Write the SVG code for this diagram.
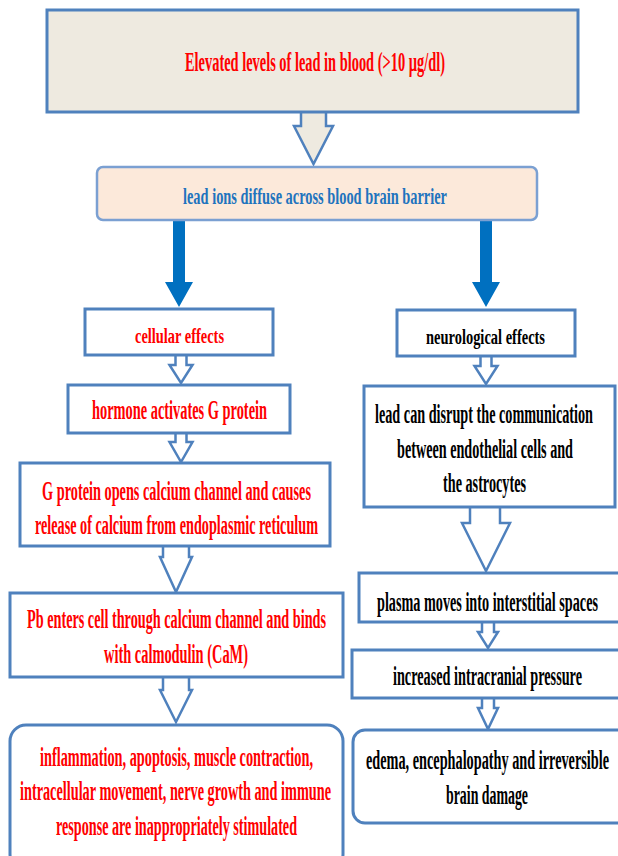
<svg xmlns="http://www.w3.org/2000/svg" width="618" height="856" viewBox="0 0 618 856">
<style>
.box{fill:#ffffff;stroke:#4F81BD;stroke-width:3}
.ha{fill:#ffffff;stroke:#4F81BD;stroke-width:2.5;stroke-linejoin:miter}
.t{font-family:"Liberation Serif","Times New Roman",serif;font-weight:bold;font-size:27px;text-anchor:middle}
.s{font-size:22px}
.m{font-size:24px}
.r{fill:#FF0000}
.k{fill:#000000}
.b{fill:#1F74BE}
</style>
<rect width="618" height="856" fill="#ffffff"/>
<g id="connectors">
<path class="ha" style="fill:#EEEAE0" d="M301,111 L301,126 L294,126 L313.5,164 L333,126 L326,126 L326,111"/>
<path fill="#0070C0" d="M173,220 L185,220 L185,282 L193,282 L179,307 L165,282 L173,282 Z"/>
<path fill="#0070C0" d="M480,220 L492,220 L492,282 L500,282 L486,307 L472,282 L480,282 Z"/>
<path class="ha" d="M175.5,355 L175.5,365 L169.5,365 L181,383 L192.5,365 L186.5,365 L186.5,355"/>
<path class="ha" d="M175.5,433 L175.5,442 L169.5,442 L181,462 L192.5,442 L186.5,442 L186.5,433"/>
<path class="ha" d="M163,546 L163,557 L160,557 L176,592 L192,557 L189,557 L189,546"/>
<path class="ha" d="M163,677 L163,690 L160,690 L176,722 L192,690 L189,690 L189,677"/>
<path class="ha" d="M480.5,356 L480.5,366 L474.5,366 L486,384 L497.5,366 L491.5,366 L491.5,356"/>
<path class="ha" d="M470,507 L470,523 L462,523 L486,571 L510,523 L500,523 L500,507"/>
<path class="ha" d="M482,622 L482,632 L478,632 L488,648 L498,632 L494,632 L494,622"/>
<path class="ha" d="M482,698 L482,708 L478,708 L488,729 L498,708 L494,708 L494,698"/>
</g>
<g id="n1"><rect class="box" style="fill:#EEEAE0" x="47" y="10" width="531" height="102"/>
<text class="t r" x="315" y="71" textLength="260" lengthAdjust="spacingAndGlyphs">Elevated levels of lead in blood (&gt;10 µg/dl)</text></g>
<g id="n2"><rect class="box" style="fill:#FCE9DA;stroke:#7BA0D2;stroke-width:2.5" x="97" y="167" width="440" height="53" rx="6"/>
<text class="t m b" x="315" y="204" textLength="264" lengthAdjust="spacingAndGlyphs">lead ions diffuse across blood brain barrier</text></g>
<g id="n3"><rect class="box" x="85" y="309" width="188" height="46"/>
<text class="t s r" x="179.5" y="343" textLength="89" lengthAdjust="spacingAndGlyphs">cellular effects</text></g>
<g id="n4"><rect class="box" x="68" y="385" width="222" height="48"/>
<text class="t r" x="179.5" y="419" textLength="175" lengthAdjust="spacingAndGlyphs">hormone activates G protein</text></g>
<g id="n5"><rect class="box" x="20" y="463" width="310" height="83"/>
<text class="t r" x="176.5" y="500" textLength="269" lengthAdjust="spacingAndGlyphs">G protein opens calcium channel and causes</text>
<text class="t r" x="176.5" y="534" textLength="283" lengthAdjust="spacingAndGlyphs">release of calcium from endoplasmic reticulum</text></g>
<g id="n6"><rect class="box" x="10" y="593" width="333" height="84"/>
<text class="t r" x="176.5" y="628" textLength="299" lengthAdjust="spacingAndGlyphs">Pb enters cell through calcium channel and binds</text>
<text class="t r" x="176" y="663" textLength="144" lengthAdjust="spacingAndGlyphs">with calmodulin (CaM)</text></g>
<g id="n7"><rect class="box" x="10" y="725" width="333" height="145" rx="16"/>
<text class="t r" x="176.5" y="766" textLength="273" lengthAdjust="spacingAndGlyphs">inflammation, apoptosis, muscle contraction,</text>
<text class="t r" x="175.5" y="800" textLength="311" lengthAdjust="spacingAndGlyphs">intracellular movement, nerve growth and immune</text>
<text class="t r" x="176.5" y="835" textLength="241" lengthAdjust="spacingAndGlyphs">response are inappropriately stimulated</text></g>
<g id="n8"><rect class="box" x="397" y="310" width="178" height="46"/>
<text class="t s k" x="485.5" y="344" textLength="119" lengthAdjust="spacingAndGlyphs">neurological effects</text></g>
<g id="n9"><rect class="box" x="364" y="386" width="251" height="121"/>
<text class="t k" x="484" y="423" textLength="218" lengthAdjust="spacingAndGlyphs">lead can disrupt the communication</text>
<text class="t k" x="485" y="458" textLength="176" lengthAdjust="spacingAndGlyphs">between endothelial cells and</text>
<text class="t k" x="484.5" y="492" textLength="83" lengthAdjust="spacingAndGlyphs">the astrocytes</text></g>
<g id="n10"><rect class="box" x="359" y="573" width="266" height="49"/>
<text class="t k" x="487.5" y="611" textLength="221" lengthAdjust="spacingAndGlyphs">plasma moves into interstitial spaces</text></g>
<g id="n11"><rect class="box" x="352" y="650" width="273" height="48"/>
<text class="t k" x="487.5" y="685" textLength="189" lengthAdjust="spacingAndGlyphs">increased intracranial pressure</text></g>
<g id="n12"><rect class="box" x="353" y="730" width="280" height="93" rx="12"/>
<text class="t k" x="487.5" y="769" textLength="243" lengthAdjust="spacingAndGlyphs">edema, encephalopathy and irreversible</text>
<text class="t k" x="487" y="804" textLength="82" lengthAdjust="spacingAndGlyphs">brain damage</text></g>
</svg>
